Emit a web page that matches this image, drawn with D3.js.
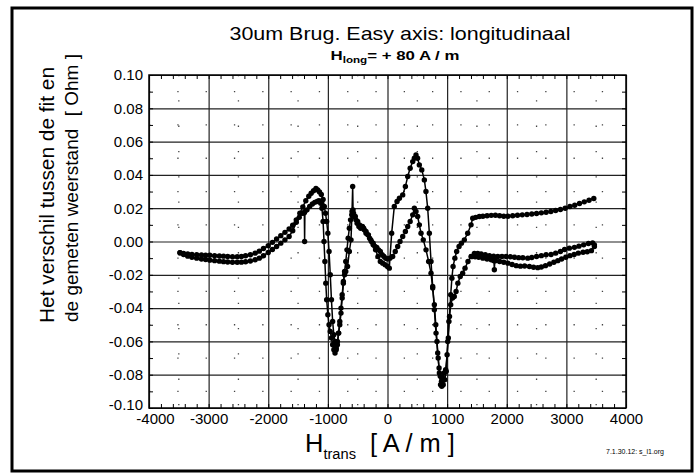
<!DOCTYPE html>
<html>
<head>
<meta charset="utf-8">
<script src="https://cdn.jsdelivr.net/npm/d3@7"></script>
<style>
  body { margin: 0; background: #fff; }
  svg text { font-family: "Liberation Sans", Arial, Helvetica, sans-serif; fill: #000; }
</style>
</head>
<body>
<svg id="chart" width="698" height="475"></svg>
<script>
// tick values
var xTicks = [-4000, -3000, -2000, -1000, 0, 1000, 2000, 3000, 4000];
var yTicks = [-0.10, -0.08, -0.06, -0.04, -0.02, 0.00, 0.02, 0.04, 0.06, 0.08, 0.10];

// sweep 1 : [H_trans, verschil]
var sweepA = [[-3480,-0.0068],[-3420,-0.0072],[-3350,-0.0075],[-3280,-0.0078],[-3200,-0.0080],[-3120,-0.0081],[-3050,-0.0082],[-2980,-0.0083],[-2900,-0.0085],[-2820,-0.0087],[-2750,-0.0088],[-2680,-0.0090],[-2600,-0.0091],[-2520,-0.0091],[-2450,-0.0090],[-2380,-0.0086],[-2300,-0.0080],[-2220,-0.0070],[-2150,-0.0058],[-2080,-0.0042],[-2000,-0.0025],[-1930,-0.0005],[-1860,0.0015],[-1790,0.0035],[-1720,0.0055],[-1650,0.0075],[-1590,0.0098],[-1530,0.0130],[-1470,0.0170],[-1420,0.0208],[-1370,0.0245],[-1320,0.0272],[-1280,0.0290],[-1240,0.0305],[-1200,0.0318],[-1170,0.0310],[-1140,0.0298],[-1110,0.0282],[-1080,0.0252],[-1060,0.0210],[-1040,0.0170],[-1020,0.0120],[-1000,0.0050],[-980,-0.0060],[-960,-0.0200],[-940,-0.0350],[-920,-0.0480],[-900,-0.0560],[-880,-0.0600],[-860,-0.0640],[-840,-0.0620],[-820,-0.0550],[-800,-0.0480],[-780,-0.0400],[-760,-0.0320],[-740,-0.0240],[-720,-0.0200],[-700,-0.0180],[-670,-0.0150],[-640,-0.0060],[-612,0.0010],[-595,0.0180],[-584,0.0330],[-578,0.0190],[-560,0.0150],[-530,0.0130],[-500,0.0120],[-470,0.0100],[-440,0.0090],[-400,0.0080],[-360,0.0060],[-320,0.0040],[-280,0.0010],[-240,-0.0020],[-200,-0.0050],[-160,-0.0090],[-120,-0.0120],[-80,-0.0130],[-40,-0.0140],[0,-0.0150],[30,-0.0160],[70,0.0050],[114,0.0210],[160,0.0240],[200,0.0260],[255,0.0280],[300,0.0330],[339,0.0390],[380,0.0440],[423,0.0480],[450,0.0500],[478,0.0520],[505,0.0500],[534,0.0460],[575,0.0430],[618,0.0370],[645,0.0300],[674,0.0200],[702,0.0050],[730,-0.0120],[758,-0.0270],[786,-0.0410],[814,-0.0550],[842,-0.0670],[865,-0.0760],[885,-0.0810],[905,-0.0840],[925,-0.0820],[950,-0.0790],[975,-0.0770],[1000,-0.0680],[1020,-0.0580],[1040,-0.0450],[1060,-0.0320],[1080,-0.0220],[1100,-0.0150],[1130,-0.0100],[1160,-0.0060],[1200,-0.0030],[1240,-0.0010],[1289,0.0010],[1345,0.0050],[1401,0.0100],[1429,0.0140],[1480,0.0145],[1540,0.0150],[1600,0.0152],[1670,0.0155],[1740,0.0157],[1810,0.0158],[1880,0.0155],[1950,0.0152],[2020,0.0152],[2100,0.0155],[2180,0.0158],[2260,0.0160],[2340,0.0162],[2420,0.0165],[2500,0.0168],[2580,0.0172],[2660,0.0176],[2740,0.0180],[2820,0.0186],[2900,0.0192],[2980,0.0200],[3060,0.0210],[3140,0.0218],[3220,0.0228],[3300,0.0238],[3380,0.0248],[3460,0.0258]];

// sweep 2
var sweepB = [[-3480,-0.0068],[-3420,-0.0078],[-3350,-0.0088],[-3280,-0.0095],[-3200,-0.0100],[-3120,-0.0105],[-3050,-0.0108],[-2980,-0.0112],[-2900,-0.0115],[-2820,-0.0118],[-2750,-0.0121],[-2680,-0.0123],[-2600,-0.0125],[-2520,-0.0125],[-2450,-0.0124],[-2380,-0.0122],[-2300,-0.0117],[-2220,-0.0110],[-2150,-0.0100],[-2080,-0.0085],[-2000,-0.0066],[-1930,-0.0048],[-1860,-0.0030],[-1790,-0.0010],[-1720,0.0010],[-1650,0.0030],[-1590,0.0065],[-1530,0.0115],[-1480,0.0145],[-1420,0.0170],[-1395,0.0172],[-1390,0.0000],[-1385,0.0180],[-1350,0.0190],[-1305,0.0210],[-1260,0.0225],[-1220,0.0235],[-1180,0.0240],[-1150,0.0245],[-1120,0.0230],[-1100,0.0200],[-1080,0.0120],[-1065,0.0000],[-1050,-0.0120],[-1035,-0.0250],[-1020,-0.0350],[-1000,-0.0440],[-980,-0.0500],[-960,-0.0540],[-940,-0.0580],[-920,-0.0620],[-900,-0.0650],[-880,-0.0670],[-860,-0.0650],[-840,-0.0600],[-820,-0.0550],[-800,-0.0500],[-780,-0.0430],[-760,-0.0340],[-740,-0.0250],[-720,-0.0180],[-700,-0.0120],[-680,-0.0050],[-660,0.0020],[-640,0.0080],[-620,0.0130],[-600,0.0160],[-570,0.0170],[-540,0.0150],[-510,0.0110],[-480,0.0090],[-450,0.0080],[-420,0.0090],[-390,0.0070],[-360,0.0050],[-330,0.0040],[-300,0.0020],[-270,0.0000],[-240,-0.0010],[-210,-0.0030],[-180,-0.0035],[-150,-0.0050],[-120,-0.0060],[-90,-0.0080],[-60,-0.0090],[-30,-0.0100],[0,-0.0105],[40,-0.0100],[87,-0.0090],[130,-0.0060],[171,-0.0030],[210,0.0000],[255,0.0030],[300,0.0060],[339,0.0090],[380,0.0120],[423,0.0160],[450,0.0200],[478,0.0180],[506,0.0150],[534,0.0100],[562,0.0050],[600,0.0010],[646,-0.0050],[690,-0.0120],[730,-0.0190],[758,-0.0280],[786,-0.0380],[810,-0.0500],[830,-0.0600],[850,-0.0700],[870,-0.0790],[890,-0.0860],[910,-0.0870],[935,-0.0860],[960,-0.0830],[985,-0.0780],[1010,-0.0600],[1030,-0.0480],[1060,-0.0380],[1090,-0.0340],[1120,-0.0330],[1150,-0.0300],[1180,-0.0250],[1220,-0.0210],[1261,-0.0190],[1300,-0.0160],[1350,-0.0120],[1401,-0.0090],[1457,-0.0072],[1513,-0.0072],[1570,-0.0075],[1640,-0.0080],[1710,-0.0085],[1780,-0.0088],[1850,-0.0090],[1920,-0.0090],[1990,-0.0090],[2060,-0.0092],[2130,-0.0095],[2200,-0.0097],[2270,-0.0098],[2352,-0.0100],[2420,-0.0096],[2500,-0.0090],[2580,-0.0085],[2660,-0.0080],[2743,-0.0078],[2820,-0.0070],[2900,-0.0060],[2970,-0.0048],[3050,-0.0040],[3135,-0.0035],[3210,-0.0028],[3290,-0.0020],[3370,-0.0012],[3440,-0.0008],[3470,-0.0020]];

// sweep 3 (terug vanaf +3470)
var sweepC = [[3470,-0.0030],[3420,-0.0055],[3350,-0.0062],[3280,-0.0065],[3200,-0.0070],[3130,-0.0078],[3060,-0.0085],[2990,-0.0095],[2920,-0.0105],[2856,-0.0115],[2790,-0.0125],[2720,-0.0135],[2650,-0.0145],[2580,-0.0153],[2520,-0.0157],[2450,-0.0155],[2380,-0.0150],[2300,-0.0147],[2230,-0.0148],[2160,-0.0145],[2090,-0.0138],[2020,-0.0130],[1950,-0.0125],[1880,-0.0120],[1810,-0.0115],[1800,-0.0115],[1792,-0.0170],[1785,-0.0115],[1740,-0.0110],[1670,-0.0105],[1600,-0.0100],[1530,-0.0095],[1470,-0.0092],[1420,-0.0090]];

var svg = d3.select("#chart");

var pLeft = 149, pRight = 626, pTop = 75, pBottom = 408;
var x = d3.scaleLinear().domain([-4000, 4000]).range([pLeft, pRight]);
var y = d3.scaleLinear().domain([-0.1, 0.1]).range([pBottom, pTop]);

var fmt = d3.formatLocale({decimal: ".", thousands: "", grouping: [3], currency: ["", ""], minus: "-"});
var fmtY = fmt.format(".2f"), fmtX = fmt.format("d");

// outer frame
svg.append("rect")
  .attr("x", 12).attr("y", 8)
  .attr("width", 680).attr("height", 463)
  .attr("fill", "none").attr("stroke", "#000").attr("stroke-width", 3);

// dotted minor grid
var xMinor = d3.range(-3500, 4000, 1000);
var yMinor = d3.range(-0.09, 0.1, 0.02);
svg.append("g").selectAll("line").data(xMinor).enter().append("line")
  .attr("x1", function (d) { return x(d); }).attr("x2", function (d) { return x(d); })
  .attr("y1", pTop).attr("y2", pBottom)
  .attr("stroke", "#444").attr("stroke-width", 1.3).attr("stroke-dasharray", "1.3,24");
svg.append("g").selectAll("line").data(yMinor).enter().append("line")
  .attr("y1", function (d) { return y(d); }).attr("y2", function (d) { return y(d); })
  .attr("x1", pLeft).attr("x2", pRight)
  .attr("stroke", "#444").attr("stroke-width", 1.3).attr("stroke-dasharray", "1.3,27");

// major grid
svg.append("g").attr("transform", "translate(0," + pBottom + ")")
  .call(d3.axisBottom(x).tickValues(xTicks).tickSize(-(pBottom - pTop)).tickFormat(""))
  .call(function (g) { g.select(".domain").remove(); g.selectAll("line").attr("stroke", "#222").attr("stroke-width", 1.2); });
svg.append("g").attr("transform", "translate(" + pLeft + ",0)")
  .call(d3.axisLeft(y).tickValues(yTicks).tickSize(-(pRight - pLeft)).tickFormat(""))
  .call(function (g) { g.select(".domain").remove(); g.selectAll("line").attr("stroke", "#222").attr("stroke-width", 1.2); });

// minor ticks on all four sides
var xSmall = d3.range(-4000, 4001, 200);
var ySmall = d3.range(-0.1, 0.1001, 0.01);
function styleTicks(g) { g.select(".domain").remove(); g.selectAll("line").attr("stroke", "#000").attr("stroke-width", 1); }
svg.append("g").attr("transform", "translate(0," + pBottom + ")")
  .call(d3.axisBottom(x).tickValues(xSmall).tickSize(-4).tickFormat("")).call(styleTicks);
svg.append("g").attr("transform", "translate(0," + pTop + ")")
  .call(d3.axisTop(x).tickValues(xSmall).tickSize(-4).tickFormat("")).call(styleTicks);
svg.append("g").attr("transform", "translate(" + pLeft + ",0)")
  .call(d3.axisLeft(y).tickValues(ySmall).tickSize(-4).tickFormat("")).call(styleTicks);
svg.append("g").attr("transform", "translate(" + pRight + ",0)")
  .call(d3.axisRight(y).tickValues(ySmall).tickSize(-4).tickFormat("")).call(styleTicks);

// plot frame
svg.append("rect")
  .attr("x", pLeft).attr("y", pTop)
  .attr("width", pRight - pLeft).attr("height", pBottom - pTop)
  .attr("fill", "none").attr("stroke", "#000").attr("stroke-width", 1.5);

// tick labels
var yAxis = svg.append("g").attr("transform", "translate(" + pLeft + ",0)")
  .call(d3.axisLeft(y).tickValues(yTicks).tickSize(0).tickPadding(6).tickFormat(fmtY));
yAxis.select(".domain").remove();
yAxis.selectAll("text").attr("font-size", 15).attr("font-family", null)
  .attr("dy", function (d) { return d < -0.09 ? "0.1em" : "0.32em"; });

var xAxis = svg.append("g").attr("transform", "translate(0," + pBottom + ")")
  .call(d3.axisBottom(x).tickValues(xTicks).tickSize(0).tickPadding(5).tickFormat(fmtX));
xAxis.select(".domain").remove();
xAxis.selectAll("text").attr("font-size", 15).attr("font-family", null)
  .attr("dx", function (d) { return d === -4000 ? 6 : 0; });

// data
var line = d3.line().x(function (d) { return x(d[0]); }).y(function (d) { return y(d[1]); });
var plot = svg.append("g");
[sweepA, sweepB, sweepC].forEach(function (s) {
  plot.append("path").datum(s).attr("d", line)
    .attr("fill", "none").attr("stroke", "#000").attr("stroke-width", 1.5);
  plot.append("g").selectAll("circle").data(s).enter().append("circle")
    .attr("cx", function (d) { return x(d[0]); })
    .attr("cy", function (d) { return y(d[1]); })
    .attr("r", 2.7).attr("fill", "#000");
});

// helper: stretch a group horizontally to a given width around cx
function fitWidth(g, width, cx) {
  var b = g.node().getBBox();
  var s = width / b.width;
  g.attr("transform", "translate(" + cx + ",0) scale(" + s + ",1) translate(" + (-(b.x + b.width / 2)) + ",0)");
}

// titles
svg.append("text").attr("x", 400).attr("y", 40).attr("text-anchor", "middle")
  .attr("font-size", 19).attr("textLength", 341).attr("lengthAdjust", "spacingAndGlyphs")
  .text("30um Brug. Easy axis: longitudinaal");

var sub = svg.append("g");
var st = sub.append("text").attr("y", 60).attr("font-size", 13).attr("font-weight", "bold");
st.append("tspan").text("H");
st.append("tspan").attr("font-size", 9).attr("dy", 3).text("long");
st.append("tspan").attr("dy", -3).text("= + 80 A / m");
fitWidth(sub, 129, 395);

var xl = svg.append("g");
var xt = xl.append("text").attr("y", 452).attr("font-size", 26);
xt.append("tspan").text("H");
xt.append("tspan").attr("font-size", 15).attr("dy", 7).text("trans");
xt.append("tspan").attr("dy", -7).attr("xml:space", "preserve").text("  [ A / m ]");
fitWidth(xl, 150, 380);

svg.append("text").attr("x", 606).attr("y", 454).attr("font-size", 7)
  .attr("textLength", 58).attr("lengthAdjust", "spacingAndGlyphs")
  .text("7.1.30.12: s_l1.org");

// y-axis title (two lines)
svg.append("text").attr("transform", "translate(54,195) rotate(-90)")
  .attr("text-anchor", "middle").attr("font-size", 20)
  .attr("textLength", 256).attr("lengthAdjust", "spacingAndGlyphs")
  .text("Het  verschil tussen de fit en");
svg.append("text").attr("transform", "translate(78,322) rotate(-90)")
  .attr("text-anchor", "start").attr("font-size", 19)
  .text("de gemeten weerstand");
svg.append("text").attr("transform", "translate(78,54) rotate(-90)")
  .attr("text-anchor", "end").attr("font-size", 19)
  .text("[ Ohm  ]");
</script>
</body>
</html>
